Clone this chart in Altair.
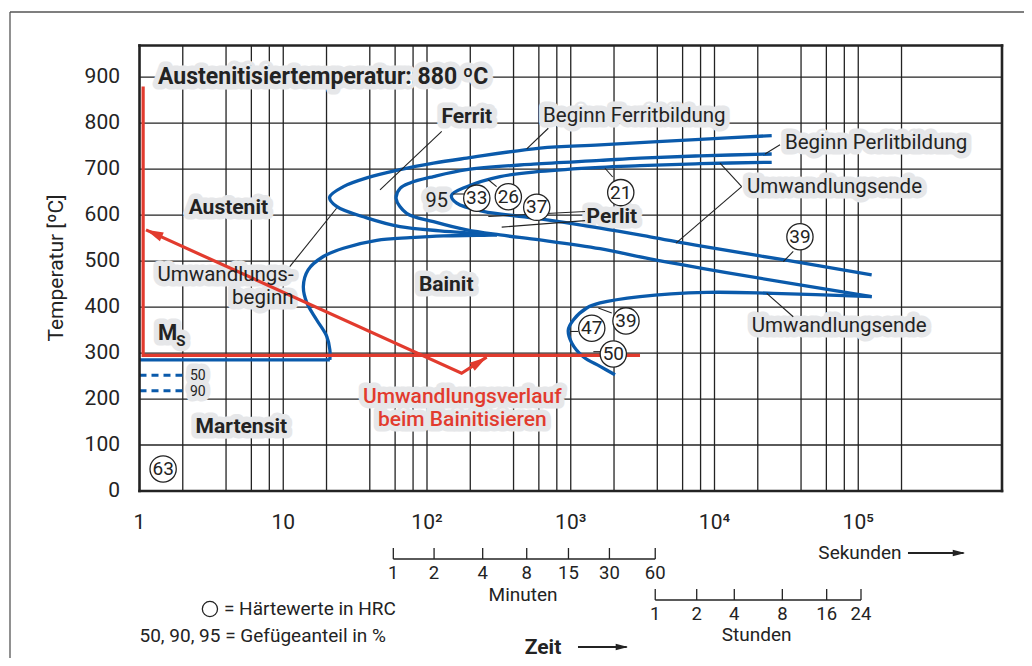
import altair as alt
import pandas as pd

FONT = "Roboto, sans-serif"
BLUE = "#0a5aab"
RED = "#e23b2e"
BG = "#e6e7e9"
INK = "#232323"

# ---------------- data ----------------
grid_t = [2, 4, 6, 8, 10, 20, 40, 60, 80, 100, 200, 400, 600, 800, 1000,
          2000, 4000, 6000, 8000, 1e4, 2e4, 4e4, 6e4, 8e4, 1e5, 2e5]
grid_T = [100, 200, 300, 400, 500, 600, 700, 800, 900]

x_tick_values = [1, 10, 100, 1000, 1e4, 1e5]
x_tick_labels = ["1", "10", "10²", "10³", "10⁴", "10⁵"]
y_tick_values = [0, 100, 200, 300, 400, 500, 600, 700, 800, 900]
y_tick_labels = ["0", "100", "200", "300", "400", "500", "600", "700", "800", "900"]

# Beginn Ferritbildung (upper C) down to cusp
A1_t = [25000, 7930, 1600, 611, 189, 111, 64.9, 38.1, 26.2, 21.0, 23.5, 38.1, 64.9, 123, 199, 307]
A1_T = [773, 765, 753, 746, 724, 713, 699, 681, 662, 639, 619, 594, 575, 566, 561, 557]
# Umwandlungsbeginn (Bainit)
A2_t = [307, 222, 130, 76.2, 44.7, 26.2, 19.0, 14.9, 13.8, 14.6, 17.1, 20.1, 21.1, 21.1]
A2_T = [557, 556, 555, 551, 545, 528, 510, 481, 445, 409, 372, 336, 307, 285]
# Ms line
Ms_t = [21.1, 1.0]
Ms_T = [285, 285]
# Beginn Perlitbildung
B1_t = [25000, 7930, 3033, 1600, 549, 189, 111, 76.2, 64.9, 61.0, 72.2, 111, 189, 322, 611, 1600, 3560, 15040, 124000]
B1_T = [733, 729, 724, 719, 711, 699, 684, 670, 658, 636, 604, 586, 568, 557, 546, 527, 505, 470, 423]
# Umwandlungsende (Bainit)
B2_t = [124000, 25650, 8830, 3033, 1600, 1292, 1042, 961, 1016, 1222, 1600, 2032]
B2_T = [423, 430, 432, 423, 409, 398, 372, 350, 322, 292, 271, 253]
# Umwandlungsende (Perlit, 95 %)
C_t = [25000, 7930, 3033, 1600, 611, 322, 189, 148, 161, 246, 549, 1600, 3560, 7930, 30000, 124000]
C_T = [715, 712, 707.5, 704, 695, 684, 662, 643, 626, 608, 594, 572, 553, 533, 503, 470]

# Martensite fractions (dashed)
m50_t = [1.0, 2.0]
m50_T = [252, 252]
m90_t = [1.0, 2.0]
m90_T = [218, 218]

# red cooling path
red1_t = [1.06, 1.06, 3033]
red1_T = [880, 295, 295]
red2_t = [1.11, 174, 260]
red2_T = [568, 256, 291]
arrow_t = [1.11, 260]
arrow_T = [568, 291]
arrow_ang = [294, 57]

# hardness values (HRC)
hard_t = [1.46, 222, 368, 580, 2228, 39300, 1400, 2422, 1977]
hard_T = [48, 637, 640, 617, 649, 553, 354, 370, 298]
hard_v = ["63", "33", "26", "37", "21", "39", "47", "39", "50"]

# leader lines
lead_t1 = [126.6, 698, 23.5, 1257, 1257, 152, 267, 1731, 28560, 10920, 15460, 35300, 23080, 988, 1555, 1436]
lead_T1 = [782, 789, 615, 608, 588, 646, 677, 702, 753, 713, 662, 521, 430, 347, 398, 303]
lead_t2 = [47.1, 494, 11.1, 267, 331, 181, 305, 1958, 22450, 15460, 5400, 30100, 35300, 1129, 1928, 1600]
lead_T2 = [655, 744, 488, 597, 574, 646, 662, 683, 733, 662, 539, 499, 379, 347, 387, 303]

# in-plot labels
lab_text = ["Austenitisiertemperatur: 880 ºC", "Ferrit", "Beginn Ferritbildung", "Beginn Perlitbildung",
            "Umwandlungsende", "Austenit", "Perlit", "95", "Umwandlungs-", "beginn", "Bainit",
            "M", "S", "50", "90", "Martensit", "Umwandlungsverlauf", "beim Bainitisieren", "Umwandlungsende"]
lab_t = [1.345, 189, 641, 30900, 16830, 4.15, 1288, 117, 11.8, 11.8, 136, 1.345, 1.80, 2.245, 2.245,
         5.11, 176, 176, 18150]
lab_T = [901, 813, 816, 758, 662, 615, 596, 630, 470, 419, 448, 344, 326, 250, 215.5, 140, 205, 154.5, 359]
lab_align = ["left", "center", "left", "left", "left", "center", "left", "center", "right", "right", "center",
             "left", "left", "left", "left", "center", "center", "center", "left"]
lab_weight = ["bold", "bold", "normal", "normal", "normal", "bold", "bold", "normal", "normal", "normal", "bold",
              "bold", "bold", "normal", "normal", "bold", "medium", "medium", "normal"]
lab_size = [23, 21, 20.5, 20.5, 20.5, 21, 21, 20, 20.5, 20.5, 21, 22, 15, 14, 14, 21, 21, 21, 20.5]
lab_color = [INK] * 16 + [RED, RED] + [INK]

# time scales below the plot
min_t = [58.3, 112, 244, 494, 964, 1858, 3870]
min_lab = ["1", "2", "4", "8", "15", "30", "60"]
hr_t = [3870, 7520, 13730, 29640, 60300, 104500]
hr_lab = ["1", "2", "4", "8", "16", "24"]

# ---------------- layout helpers ----------------
W, H = 862.5, 445.5
PL, PT = 139.5, 45.5  # page position of the plot's top-left corner
xs = alt.Scale(type="log", domain=[1, 1e6], nice=False)
ys = alt.Scale(domain=[0, 969], nice=False, zero=False)
WEIGHTS = {"bold": "bold", "normal": "normal", "medium": 500}


def X(f):
    return alt.X(f, scale=xs, axis=None)


def Y(f):
    return alt.Y(f, scale=ys, axis=None)


def PY(f):
    return alt.Y(f, scale=None, axis=None)


# grid
vgrid = alt.Chart(pd.DataFrame({"t": grid_t})).mark_rule(color=INK, strokeWidth=1.3).encode(x=X("t:Q"))
hgrid = alt.Chart(pd.DataFrame({"T": grid_T})).mark_rule(color=INK, strokeWidth=1.3).encode(y=Y("T:Q"))

# tick labels and axis title as text
xlab = alt.Chart(pd.DataFrame({"t": x_tick_values, "lab": x_tick_labels})).mark_text(
    font=FONT, fontSize=21, color=INK, baseline="middle").encode(x=X("t:Q"), y=alt.value(523 - PT), text="lab:N")
ylab = alt.Chart(pd.DataFrame({"T": y_tick_values, "lab": y_tick_labels})).mark_text(
    font=FONT, fontSize=21, color=INK, baseline="middle", align="right").encode(
    y=Y("T:Q"), x=alt.value(120 - PL), text="lab:N")
ytitle = alt.Chart(pd.DataFrame({"lab": ["Temperatur [ºC]"]})).mark_text(
    font=FONT, fontSize=21, color=INK, baseline="middle", align="center", angle=270).encode(
    x=alt.value(57 - PL), y=alt.value(268 - PT), text="lab:N")

labels = pd.DataFrame({"text": lab_text, "t": lab_t, "T": lab_T, "align": lab_align, "weight": lab_weight,
                       "size": lab_size, "color": lab_color})

halos, texts = [], []
for (al, wt), sub in labels.groupby(["align", "weight"]):
    w = WEIGHTS[wt]
    base = alt.Chart(sub).encode(x=X("t:Q"), y=Y("T:Q"), text="text:N", size=alt.Size("size:Q", scale=None))
    halos.append(base.mark_text(align=al, baseline="middle", font=FONT, fontWeight=w, fill=BG, stroke=BG,
                                strokeWidth=11, strokeJoin="round"))
    texts.append(base.mark_text(align=al, baseline="middle", font=FONT, fontWeight=w).encode(
        color=alt.Color("color:N", scale=None)))

# curves
rows = []
for name, ts, Ts in [("A1", A1_t, A1_T), ("A2", A2_t, A2_T), ("B1", B1_t, B1_T), ("B2", B2_t, B2_T),
                     ("C", C_t, C_T)]:
    for i, (a, b) in enumerate(zip(ts, Ts)):
        rows.append({"seg": name, "i": i, "t": a, "T": b})
curves = alt.Chart(pd.DataFrame(rows)).mark_line(color=BLUE, strokeWidth=3.3, interpolate="catmull-rom",
                                                 strokeCap="butt").encode(
    x=X("t:Q"), y=Y("T:Q"), detail="seg:N", order="i:Q")
ms = alt.Chart(pd.DataFrame({"t": Ms_t, "T": Ms_T})).mark_line(color=BLUE, strokeWidth=3.3).encode(
    x=X("t:Q"), y=Y("T:Q"))

drows = [{"seg": "50", "t": a, "T": b} for a, b in zip(m50_t, m50_T)] + \
        [{"seg": "90", "t": a, "T": b} for a, b in zip(m90_t, m90_T)]
dashed = alt.Chart(pd.DataFrame(drows)).mark_line(color=BLUE, strokeWidth=3, strokeDash=[7, 5]).encode(
    x=X("t:Q"), y=Y("T:Q"), detail="seg:N")

rrows = [{"seg": "a", "i": i, "t": a, "T": b} for i, (a, b) in enumerate(zip(red1_t, red1_T))] + \
        [{"seg": "b", "i": i, "t": a, "T": b} for i, (a, b) in enumerate(zip(red2_t, red2_T))]
red = alt.Chart(pd.DataFrame(rrows)).mark_line(color=RED, strokeWidth=3.2).encode(
    x=X("t:Q"), y=Y("T:Q"), detail="seg:N", order="i:Q")
ARROW = "M0,0L-0.55,2L0.55,2Z"
arrows = alt.Chart(pd.DataFrame({"t": arrow_t, "T": arrow_T, "ang": arrow_ang})).mark_point(
    shape=ARROW, filled=True, color=RED, size=300, opacity=1).encode(
    x=X("t:Q"), y=Y("T:Q"), angle=alt.Angle("ang:Q", scale=None))

leaders = alt.Chart(pd.DataFrame({"t1": lead_t1, "T1": lead_T1, "t2": lead_t2, "T2": lead_T2})).mark_rule(
    color=INK, strokeWidth=1.1).encode(x=X("t1:Q"), y=Y("T1:Q"), x2="t2:Q", y2="T2:Q")

hard = pd.DataFrame({"t": hard_t, "T": hard_T, "v": hard_v})
circles = alt.Chart(hard).mark_point(shape="circle", filled=True, fill="white", stroke=INK, strokeWidth=1.3,
                                     size=690, opacity=1).encode(x=X("t:Q"), y=Y("T:Q"))
circ_txt = alt.Chart(hard).mark_text(font=FONT, fontSize=19, color=INK, baseline="middle").encode(
    x=X("t:Q"), y=Y("T:Q"), text="v:N")

# --------- below the plot (time scales, notes) ---------
one = pd.DataFrame({"a": [0]})

min_df = pd.DataFrame({"t": min_t, "lab": min_lab})
hr_df = pd.DataFrame({"t": hr_t, "lab": hr_lab})
min_line = alt.Chart(pd.DataFrame({"a": [min_t[0]], "b": [min_t[-1]]})).mark_rule(color=INK, strokeWidth=1.3).encode(
    x=X("a:Q"), x2="b:Q", y=alt.value(559 - PT))
min_ticks = alt.Chart(min_df).mark_rule(color=INK, strokeWidth=1.3).encode(
    x=X("t:Q"), y=alt.value(548 - PT), y2=alt.value(559 - PT))
min_labs = alt.Chart(min_df).mark_text(font=FONT, fontSize=18.5, color=INK, baseline="middle").encode(
    x=X("t:Q"), y=alt.value(572.5 - PT), text="lab:N")
hr_line = alt.Chart(pd.DataFrame({"a": [hr_t[0]], "b": [hr_t[-1]]})).mark_rule(color=INK, strokeWidth=1.3).encode(
    x=X("a:Q"), x2="b:Q", y=alt.value(600 - PT))
hr_ticks = alt.Chart(hr_df).mark_rule(color=INK, strokeWidth=1.3).encode(
    x=X("t:Q"), y=alt.value(589 - PT), y2=alt.value(600 - PT))
hr_labs = alt.Chart(hr_df).mark_text(font=FONT, fontSize=18.5, color=INK, baseline="middle").encode(
    x=X("t:Q"), y=alt.value(614 - PT), text="lab:N")

notes = pd.DataFrame({
    "text": ["Minuten", "Stunden", "Sekunden", "= Härtewerte in HRC", "50, 90, 95 = Gefügeanteil in %"],
    "t": [466, 19660, 102800, 3.87, 1.0],
    "py": [594.5 - PT, 635 - PT, 553 - PT, 609 - PT, 636 - PT],
    "align": ["center", "center", "center", "left", "left"],
})
note_layers = []
for al, sub in notes.groupby("align"):
    note_layers.append(alt.Chart(sub).mark_text(font=FONT, fontSize=19, color=INK, align=al, baseline="middle").encode(
        x=X("t:Q"), y=PY("py:Q"), text="text:N"))
zeit = alt.Chart(pd.DataFrame({"t": [641], "py": [648 - PT], "text": ["Zeit"]})).mark_text(
    font=FONT, fontSize=21, fontWeight="bold", color=INK, baseline="middle").encode(
    x=X("t:Q"), y=PY("py:Q"), text="text:N")
legend_circle = alt.Chart(pd.DataFrame({"t": [3.09], "py": [609 - PT]})).mark_point(
    shape="circle", filled=True, fill="white", stroke=INK, strokeWidth=1.3, size=230, opacity=1).encode(
    x=X("t:Q"), y=PY("py:Q"))

arr_df = pd.DataFrame({"a": [221800, 1123], "b": [540000, 2450], "py": [553 - PT, 647 - PT]})
arr_lines = alt.Chart(arr_df).mark_rule(color=INK, strokeWidth=2).encode(
    x=X("a:Q"), x2="b:Q", y=PY("py:Q"))
arr_heads = alt.Chart(pd.DataFrame({"t": [553000, 2500], "py": [553 - PT, 647 - PT], "ang": [90, 90]})).mark_point(
    shape=ARROW, filled=True, color=INK, size=150, opacity=1).encode(
    x=X("t:Q"), y=PY("py:Q"), angle=alt.Angle("ang:Q", scale=None))

# plot frame and the figure's outer border
frame_v = alt.Chart(pd.DataFrame({"px": [0, W]})).mark_rule(color=INK, strokeWidth=2.6).encode(
    x=alt.X("px:Q", scale=None, axis=None), y=alt.value(-1.3), y2=alt.value(H + 1.3))
frame_h = alt.Chart(pd.DataFrame({"py": [0, H]})).mark_rule(color=INK, strokeWidth=2.6).encode(
    y=PY("py:Q"), x=alt.value(-1.3), x2=alt.value(W + 1.3))
border_left = alt.Chart(one).mark_rule(color="#555555", strokeWidth=1.3).encode(
    x=alt.value(10 - PL), y=alt.value(12 - PT), y2=alt.value(700 - PT))
border_top = alt.Chart(one).mark_rule(color="#555555", strokeWidth=1.3).encode(
    x=alt.value(10 - PL), x2=alt.value(1040 - PL), y=alt.value(12 - PT))

chart = alt.layer(
    vgrid, hgrid, *halos, curves, ms, dashed, red, arrows, leaders, circles, circ_txt, *texts,
    frame_v, frame_h, xlab, ylab, ytitle,
    min_line, min_ticks, min_labs, hr_line, hr_ticks, hr_labs, *note_layers, zeit, legend_circle,
    arr_lines, arr_heads, border_left, border_top
).properties(
    width=W, height=H,
    padding={"left": PL - 8, "top": PT - 8, "right": 22, "bottom": 167},
    autosize=alt.AutoSizeParams(type="none"),
).configure_view(fill=BG, stroke=None).configure(background="white")

chart.save("out.html", embed_options={"renderer": "svg", "actions": False})
